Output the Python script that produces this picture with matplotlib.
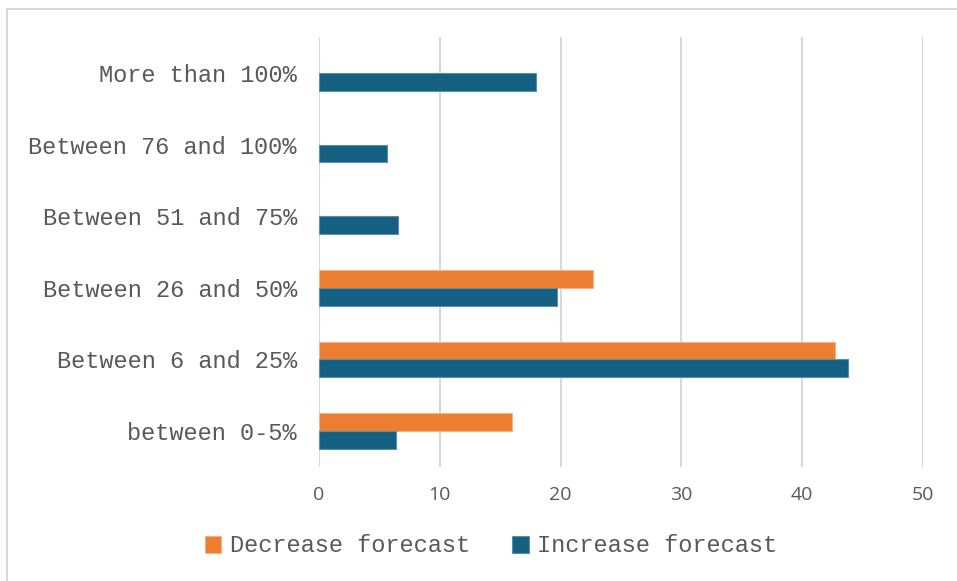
import numpy as np
import matplotlib.pyplot as plt
from matplotlib.patches import Rectangle

# Data
categories = ["between 0-5%", "Between 6 and 25%", "Between 26 and 50%",
              "Between 51 and 75%", "Between 76 and 100%", "More than 100%"]
decrease = [16.0, 42.7, 22.7, 0, 0, 0]
increase = [6.4, 43.8, 19.7, 6.5, 5.6, 18.0]
x_ticks = [0, 10, 20, 30, 40, 50]

orange = "#ED7D31"
blue = "#156082"
text_grey = "#595959"
grid_grey = "#D9D9D9"

fig = plt.figure(figsize=(9.57, 5.81), dpi=100)
ax = fig.add_axes([319 / 957, 1 - 467 / 581, 604 / 957, 430 / 581])

y = np.arange(len(categories))
h = 0.25

# no outline on empty bars
lw_dec = [0.8 if v else 0 for v in decrease]
lw_inc = [0.8 if v else 0 for v in increase]

ax.barh(y + h / 2, decrease, height=h, color=orange,
        edgecolor="#F3B38A", linewidth=lw_dec, label="Decrease forecast", zorder=3)
ax.barh(y - h / 2, increase, height=h, color=blue,
        edgecolor="#5B8FA8", linewidth=lw_inc, label="Increase forecast", zorder=3)

ax.set_xlim(0, 50)
ax.set_ylim(-0.5, len(categories) - 0.5)
ax.set_xticks(x_ticks)
ax.set_yticks(y)
ax.set_yticklabels(categories, family="Liberation Mono", fontsize=17,
                   color=text_grey)
for lbl in ax.get_yticklabels():
    lbl.set_y(lbl.get_position()[1])
ax.tick_params(axis="both", length=0)
ax.tick_params(axis="y", pad=16)
ax.tick_params(axis="x", pad=14)
ax.set_xticklabels([str(t) for t in x_ticks], family="Open Sans",
                   fontsize=14, color=text_grey)

ax.grid(axis="x", color=grid_grey, linewidth=1.5, zorder=0)
for side in ["top", "right", "bottom", "left"]:
    ax.spines[side].set_visible(False)

leg = fig.legend(loc="center", bbox_to_anchor=(0.513, 1 - 546 / 581), ncol=2,
                 frameon=False, prop={"family": "Liberation Mono", "size": 17},
                 handlelength=0.7, handleheight=0.7, handletextpad=0.35,
                 columnspacing=1.8)
for t in leg.get_texts():
    t.set_color(text_grey)

# light outer chart border (only left and top edges visible)
fig.patches.append(Rectangle((6.5 / 957, -0.1), 1.2, 1.1 - 8.5 / 581,
                             transform=fig.transFigure, fill=False,
                             edgecolor=grid_grey, linewidth=1.5))

fig.savefig("out.png", dpi=100)
